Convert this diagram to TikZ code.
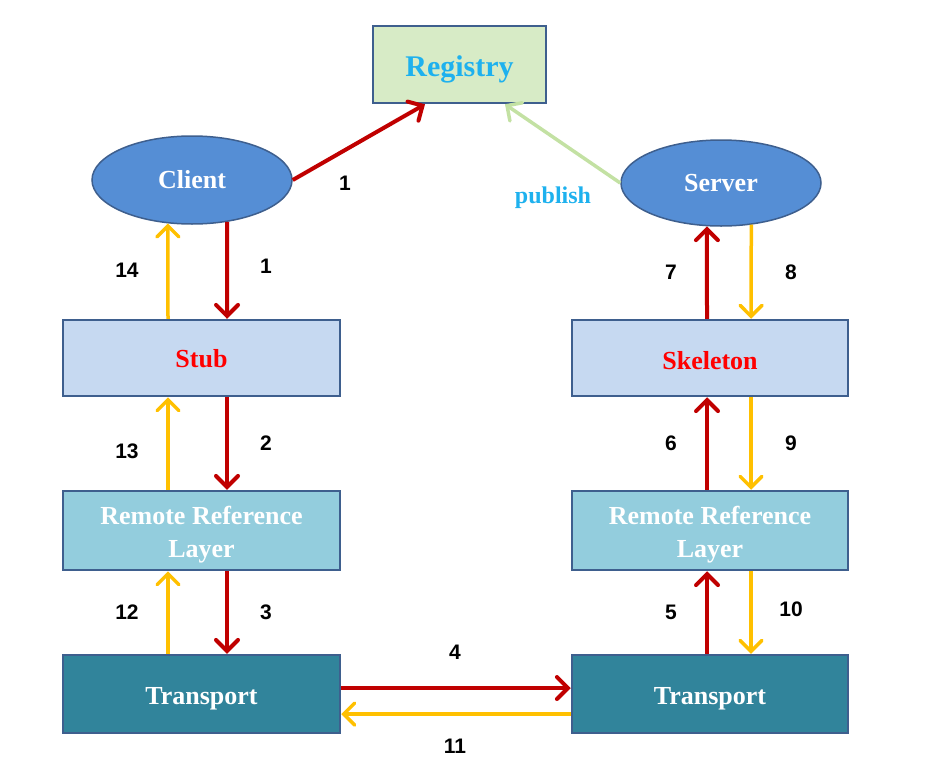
\documentclass[tikz,border=0pt]{standalone}
\usepackage{fontspec}
\setmainfont{Liberation Serif}
\newfontfamily\numfont{Liberation Sans}
\usetikzlibrary{arrows.meta,shapes.geometric,calc}
\definecolor{regfill}{HTML}{D7EBC6}
\definecolor{bordc}{HTML}{3E5F8E}
\definecolor{regtext}{HTML}{1EB1EE}
\definecolor{ellfill}{HTML}{558ED5}
\definecolor{stubfill}{HTML}{C6D9F1}
\definecolor{rrlfill}{HTML}{93CDDD}
\definecolor{trfill}{HTML}{31849B}
\definecolor{redarr}{HTML}{C00000}
\definecolor{orarr}{HTML}{FFC000}
\definecolor{grarr}{HTML}{C3E1A3}
\newcommand\lowr[2]{\raisebox{-#1}[\height][\depth]{#2}}
\tikzset{
  boxnode/.style={draw=bordc, line width=2.5pt, rectangle, inner sep=0pt, align=center, font=\fontsize{26}{33}\selectfont\bfseries},
  ellnode/.style={draw=bordc, line width=1.5pt, ellipse, fill=ellfill, inner sep=0pt, text=white, font=\fontsize{26}{30}\selectfont\bfseries},
  tipbarb/.style={-{Straight Barb[length=11pt,width=22pt,line cap=round]}},
  redflow/.style={draw=redarr, line width=4pt, tipbarb},
  orflow/.style={draw=orarr, line width=3.5pt, tipbarb},
  grflow/.style={draw=grarr, line width=3.5pt, tipbarb},
  num/.style={font=\numfont\fontsize{21}{24}\selectfont\bfseries, text=black},
}
\begin{document}
\begin{tikzpicture}[x=1pt,y=-1pt]
\useasboundingbox (0,0) rectangle (931,758);
% nodes
\node[boxnode, fill=regfill, text=regtext, minimum width=173pt, minimum height=77pt, font=\fontsize{30}{32}\selectfont\bfseries] (reg) at (459.5,64.5) {\lowr{5pt}{Registry}};
\node[ellnode, minimum width=200pt, minimum height=88pt] (client) at (192,180) {Client};
\node[ellnode, minimum width=200pt, minimum height=86pt] (server) at (721,183) {Server};
\node[boxnode, fill=stubfill, text=red, minimum width=277pt, minimum height=76pt] (stub) at (201.5,358) {\lowr{1pt}{Stub}};
\node[boxnode, fill=stubfill, text=red, minimum width=276pt, minimum height=76pt] (skel) at (710,358) {\lowr{3pt}{Skeleton}};
\node[boxnode, fill=rrlfill, text=white, minimum width=277pt, minimum height=79pt] (rrlL) at (201.5,530.5) {\rule{0pt}{26pt}Remote Reference\\Layer};
\node[boxnode, fill=rrlfill, text=white, minimum width=276pt, minimum height=79pt] (rrlR) at (710,530.5) {\rule{0pt}{26pt}Remote Reference\\Layer};
\node[boxnode, fill=trfill, text=white, minimum width=277pt, minimum height=78pt] (trL) at (201.5,694) {\lowr{5pt}{Transport}};
\node[boxnode, fill=trfill, text=white, minimum width=276pt, minimum height=78pt] (trR) at (710,694) {\lowr{5pt}{Transport}};
% top arrows
\draw[redflow] (client.east) -- ([xshift=-34.5pt]reg.south);
\draw[grflow] (server.west) -- ([xshift=45.5pt]reg.south);
% left column
\draw[redflow] (client.-50) -- ([xshift=25.5pt]stub.north);
\draw[orflow] ([xshift=-33.5pt]stub.north) -- (client.-119);
\draw[redflow] ([xshift=25.5pt]stub.south) -- ([xshift=25.5pt]rrlL.north);
\draw[orflow] ([xshift=-33.5pt]rrlL.north) -- ([xshift=-33.5pt]stub.south);
\draw[redflow] ([xshift=25.5pt]rrlL.south) -- ([xshift=25.5pt]trL.north);
\draw[orflow] ([xshift=-33.5pt]trL.north) -- ([xshift=-33.5pt]rrlL.south);
% bottom
\draw[redflow] ([yshift=6pt]trL.east) -- ([yshift=6pt]trR.west);
\draw[orflow] ([yshift=-20pt]trR.west) -- ([yshift=-20pt]trL.east);
% right column
\draw[redflow] ([xshift=-3pt]trR.north) -- ([xshift=-3pt]rrlR.south);
\draw[orflow] ([xshift=41pt]rrlR.south) -- ([xshift=41pt]trR.north);
\draw[redflow] ([xshift=-3pt]rrlR.north) -- ([xshift=-3pt]skel.south);
\draw[orflow] ([xshift=41pt]skel.south) -- ([xshift=41pt]rrlR.north);
\draw[redflow] ([xshift=-3pt]skel.north) -- (server.-108);
\draw[orflow] (server.-54) -- ([xshift=41pt]skel.north);
% labels
\node[num] (l1a) at (345,183) {1};
\node[font=\fontsize{24}{26}\selectfont\bfseries, text=regtext] (lpub) at (553,198) {publish};
\node[num] (l1b) at (266,266) {1};
\node[num] (l14) at (127,270) {14};
\node[num] (l2) at (266,443) {2};
\node[num] (l13) at (127,451) {13};
\node[num] (l3) at (266,612) {3};
\node[num] (l12) at (127,612) {12};
\node[num] (l4) at (455,652) {4};
\node[num] (l11) at (455,746) {11};
\node[num] (l7) at (671,272) {7};
\node[num] (l8) at (791,272) {8};
\node[num] (l6) at (671,443) {6};
\node[num] (l9) at (791,443) {9};
\node[num] (l5) at (671,612) {5};
\node[num] (l10) at (791,609) {10};
\end{tikzpicture}
\end{document}
